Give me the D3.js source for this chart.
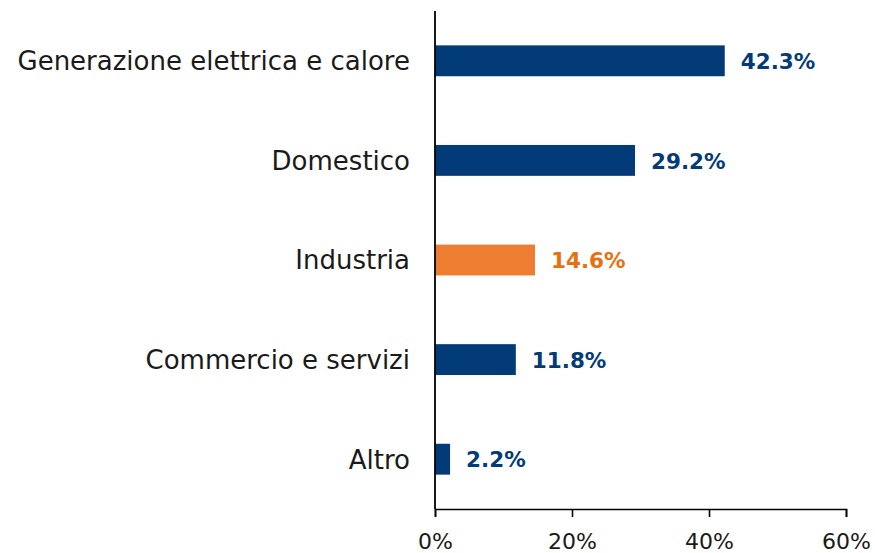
<!DOCTYPE html>
<html>
<head>
<meta charset="utf-8">
<script src="https://cdn.jsdelivr.net/npm/d3@7"></script>
<style>
  body { margin: 0; background: #fff; }
  svg { display: block; }
</style>
</head>
<body>
<div id="graphBox"></div>
<script>
// chart data
const categories = ["Generazione elettrica e calore", "Domestico", "Industria", "Commercio e servizi", "Altro"];
const values = [42.3, 29.2, 14.6, 11.8, 2.2];
const highlight = ["Industria"];
const xTicks = [0, 20, 40, 60];

const blue = "#033b79";
const orange = "#ed7d31";
const orangeText = "#e8700f";

var width = 875, height = 553;
var x0 = 435, x1 = 846, yTop = 11, yBottom = 509;

var svg = d3.select("#graphBox").append("svg")
    .attr("width", width)
    .attr("height", height)
    .style("font-family", "'DejaVu Sans', sans-serif");

var x = d3.scaleLinear().domain([0, 60]).range([x0, x1]);
var y = d3.scaleBand().domain(categories).range([yTop, yBottom])
    .paddingInner(0.69).paddingOuter(0.345);

// bars
svg.selectAll("rect.bar")
    .data(categories)
    .enter()
    .append("rect")
    .attr("class", "bar")
    .attr("x", x(0))
    .attr("y", d => y(d))
    .attr("width", (d, i) => x(values[i]) - x(0))
    .attr("height", y.bandwidth())
    .attr("fill", d => highlight.includes(d) ? orange : blue);

// value labels
svg.selectAll("text.val")
    .data(categories)
    .enter()
    .append("text")
    .attr("class", "val")
    .attr("x", (d, i) => x(values[i]) + 16)
    .attr("y", d => y(d) + y.bandwidth() / 2)
    .attr("dy", "0.38em")
    .style("font-size", "21.5px")
    .style("font-weight", "bold")
    .style("fill", d => highlight.includes(d) ? orangeText : blue)
    .text((d, i) => values[i].toFixed(1) + "%");

// category labels
svg.selectAll("text.cat")
    .data(categories)
    .enter()
    .append("text")
    .attr("class", "cat")
    .attr("x", x0 - 25)
    .attr("y", d => y(d) + y.bandwidth() / 2)
    .attr("dy", "0.36em")
    .attr("text-anchor", "end")
    .style("font-size", "26px")
    .style("fill", "#1a1a1a")
    .text(d => d);

// x axis
var xAxis = svg.append("g")
    .attr("transform", `translate(0, ${yBottom})`)
    .call(d3.axisBottom(x).tickValues(xTicks).tickSize(8).tickPadding(16).tickFormat(d => d + "%"));
xAxis.select(".domain").attr("stroke", "#000").attr("stroke-width", 1.6);
xAxis.selectAll(".tick line").attr("stroke", "#000").attr("stroke-width", 1.6);
xAxis.selectAll("text")
    .style("font-family", "'DejaVu Sans', sans-serif")
    .style("font-size", "22px")
    .style("fill", "#1a1a1a");

// y axis line
svg.append("line")
    .attr("x1", x0).attr("x2", x0)
    .attr("y1", yTop).attr("y2", yBottom)
    .attr("stroke", "#000")
    .attr("stroke-width", 1.8);
</script>
</body>
</html>
